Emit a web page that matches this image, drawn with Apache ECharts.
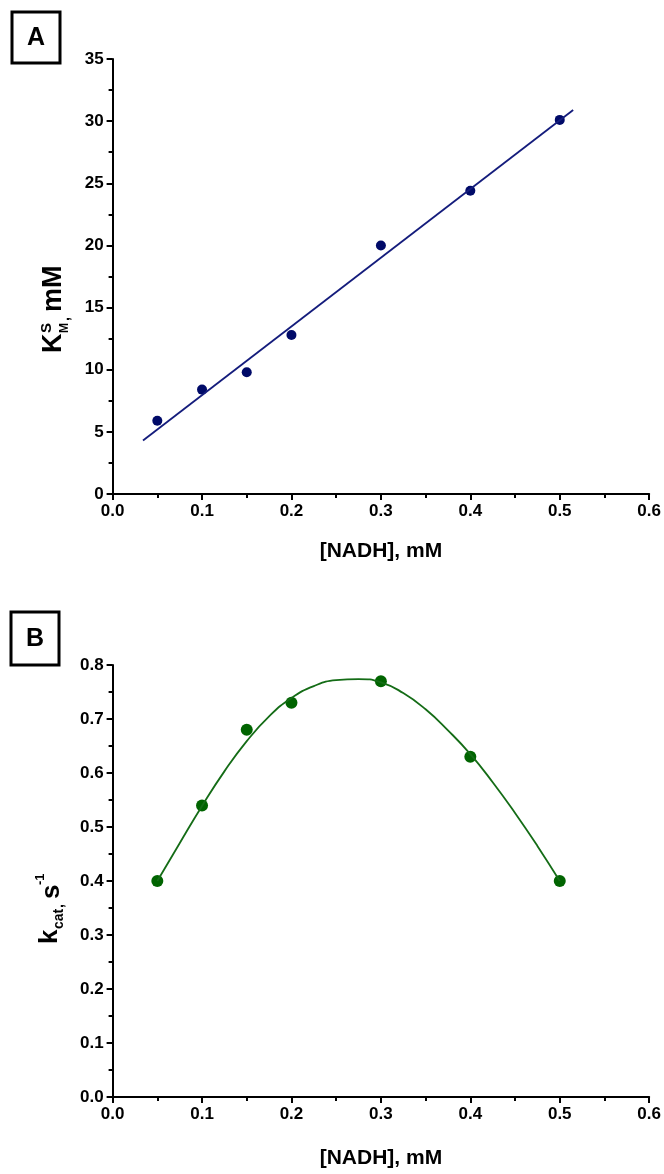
<!DOCTYPE html>
<html>
<head>
<meta charset="utf-8">
<script src="https://cdn.jsdelivr.net/npm/echarts@6/dist/echarts.min.js"></script>
<style>
  html, body { margin: 0; padding: 0; background: #fff; }
  #main { width: 664px; height: 1174px; }
</style>
</head>
<body>
<div id="main"></div>
<script>
// A: K^S_M 数据点
var nadhA = [0.05, 0.1, 0.15, 0.2, 0.3, 0.4, 0.5];
var kmA = [5.9, 8.4, 9.8, 12.8, 20.0, 24.4, 30.1];
// A: 线性拟合线两端
var fitAx = [0.034, 0.515];
var fitAy = [4.3, 30.9];
// B: k_cat 数据点
var nadhB = [0.05, 0.1, 0.15, 0.2, 0.3, 0.4, 0.5];
var kcatB = [0.40, 0.54, 0.68, 0.73, 0.77, 0.63, 0.40];
// B: 拟合曲线
var fitBx = [0.05, 0.075, 0.1, 0.125, 0.15, 0.175, 0.2, 0.225, 0.25, 0.275, 0.3, 0.325, 0.35, 0.375, 0.4, 0.425, 0.45, 0.475, 0.5];
var fitBy = [0.40, 0.47, 0.539, 0.603, 0.659, 0.705, 0.739, 0.761, 0.772, 0.774, 0.768, 0.748, 0.718, 0.679, 0.635, 0.583, 0.526, 0.465, 0.40];

var FONT = '"Liberation Sans", Arial, sans-serif';

var pairs = function(xs, ys) {
	var out = [];
	for(var i = 0; i < xs.length; i++) {
		out.push([xs[i], ys[i]]);
	}
	return out;
};

var axisBase = function(gi) {
	return {
		gridIndex: gi,
		axisLine: { show: true, lineStyle: { color: '#000', width: 2 } },
		axisTick: { show: true, length: 6, lineStyle: { color: '#000', width: 2 } },
		minorTick: { show: true, splitNumber: 2, length: 4, lineStyle: { color: '#000', width: 2 } },
		splitLine: { show: false },
		axisLabel: { color: '#000', fontFamily: FONT, fontWeight: 'bold', fontSize: 17, margin: 9 }
	};
};

var makeX = function(gi, gap) {
	var ax = axisBase(gi);
	ax.type = 'value';
	ax.min = 0;
	ax.max = 0.6;
	ax.interval = 0.1;
	ax.axisLabel.formatter = function(v) { return v.toFixed(1); };
	ax.name = '[NADH], mM';
	ax.nameLocation = 'middle';
	ax.nameGap = gap;
	ax.nameTextStyle = { color: '#000', fontFamily: FONT, fontWeight: 'bold', fontSize: 21, verticalAlign: 'top' };
	return ax;
};

var yA = axisBase(0);
yA.type = 'value'; yA.min = 0; yA.max = 35; yA.interval = 5;
var yB = axisBase(1);
yB.type = 'value'; yB.min = 0; yB.max = 0.8; yB.interval = 0.1;
yB.axisLabel.formatter = function(v) { return v.toFixed(1); };

var txt = function(x, y, s, size) {
	return { type: 'text', x: x, y: y, style: { text: s, fill: '#000', font: 'bold ' + size + 'px ' + FONT, verticalAlign: 'middle' } };
};

var panelBox = function(x, y, w, h, letter) {
	return {
		type: 'group', x: x, y: y,
		children: [
			{ type: 'rect', shape: { x: 0, y: 0, width: w, height: h }, style: { fill: '#fff', stroke: '#000', lineWidth: 3 } },
			{ type: 'text', x: w / 2, y: h / 2 + 1, style: { text: letter, fill: '#000', font: 'bold 25px ' + FONT, align: 'center', verticalAlign: 'middle', shadowColor: 'rgba(0,0,0,0.45)', shadowBlur: 3, shadowOffsetX: 1, shadowOffsetY: 1 } }
		]
	};
};

var chart = echarts.init(document.getElementById('main'), null, { renderer: 'canvas' });
var option = {
	backgroundColor: '#fff',
	animation: false,
	grid: [
		{ left: 112.6, right: 10.4, top: 59, height: 435 },
		{ left: 112.6, right: 10.4, top: 665, height: 432 }
	],
	xAxis: [makeX(0, 47), makeX(1, 51)],
	yAxis: [yA, yB],
	series: [{
		type: 'line',
		xAxisIndex: 0, yAxisIndex: 0,
		data: pairs(fitAx, fitAy),
		symbol: 'none',
		lineStyle: { color: '#141c7c', width: 1.8 }
	}, {
		type: 'scatter',
		xAxisIndex: 0, yAxisIndex: 0,
		data: pairs(nadhA, kmA),
		symbolSize: 10,
		itemStyle: { color: '#000a68', opacity: 1 }
	}, {
		type: 'line',
		xAxisIndex: 1, yAxisIndex: 1,
		data: pairs(fitBx, fitBy),
		symbol: 'none',
		smooth: true,
		lineStyle: { color: '#146c16', width: 1.8 }
	}, {
		type: 'scatter',
		xAxisIndex: 1, yAxisIndex: 1,
		data: pairs(nadhB, kcatB),
		symbolSize: 12,
		itemStyle: { color: '#006400', opacity: 1 }
	}],
	graphic: [
		panelBox(12, 12, 48, 51, 'A'),
		panelBox(11, 612, 48, 53, 'B'),
		//纵轴标题 A
		{
			type: 'group', x: 54, y: 353, rotation: Math.PI / 2,
			children: [
				txt(0, 0, 'K', 27),
				txt(20, -7, 'S', 15),
				txt(20, 11, 'M', 12),
				txt(32, 11, ',', 14),
				txt(41, 0, 'mM', 27)
			]
		},
		//纵轴标题 B
		{
			type: 'group', x: 50, y: 944, rotation: Math.PI / 2,
			children: [
				txt(0, 0, 'k', 26),
				txt(15, 9, 'cat', 14),
				txt(36, 9, ',', 14),
				txt(45, 2, 's', 26),
				txt(59, -10, '-1', 13)
			]
		}
	]
};
chart.setOption(option);
</script>
</body>
</html>
